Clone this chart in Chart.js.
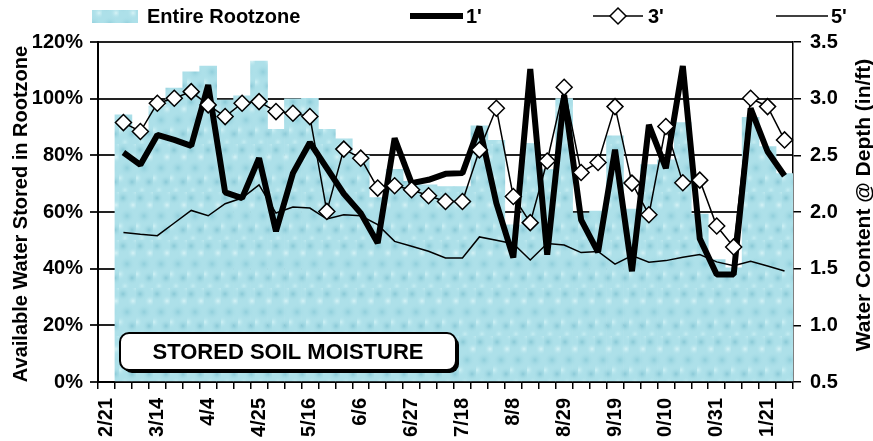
<!DOCTYPE html>
<html>
<head>
<meta charset="utf-8">
<script src="https://cdn.jsdelivr.net/npm/chart.js@4"></script>
<style>
  html, body { margin: 0; padding: 0; background: #fff; }
  canvas { display: block; }
</style>
</head>
<body>
<canvas id="chart" width="873" height="441"></canvas>
<script>
// weekly readings, first week (2/21) has no data
const weeks = ['2/21', '2/28', '3/7', '3/14', '3/21', '3/28', '4/4', '4/11', '4/18', '4/25',
    '5/2', '5/9', '5/16', '5/23', '5/30', '6/6', '6/13', '6/20', '6/27', '7/4',
    '7/11', '7/18', '7/25', '8/1', '8/8', '8/15', '8/22', '8/29', '9/5', '9/12',
    '9/19', '9/26', '10/3', '10/10', '10/17', '10/24', '10/31', '11/7', '11/14', '11/21', '11/28'];

// labels as printed under every third week
const xTickLabels = ['2/21', '3/14', '4/4', '4/25', '5/16', '6/6', '6/27', '7/18', '8/8', '8/29',
    '9/19', '0/10', '0/31', '1/21'];

// % available water stored in rootzone (left axis)
const rootzone = [null, 94.3, 89, 97.4, 103.7, 109.5, 111.5, 99.5, 101, 113.3,
    89.2, 99.9, 100.1, 89.2, 85.8, 80, 65.1, 75.1, 70.8, 69.6,
    69, 69, 90.4, 85.3, 55.5, 84.2, 75, 100, 59.6, 60.3,
    86.9, 61, 76.7, 78.4, 91.6, 59.3, 43.2, 40.3, 93.4, 83.1, 73.6];

// water content in/ft (right axis)
const depth1 = [null, 2.525, 2.416, 2.68, 2.636, 2.584, 3.12, 2.173, 2.123, 2.475,
    1.83, 2.343, 2.613, 2.387, 2.161, 1.99, 1.727, 2.651, 2.255, 2.284,
    2.337, 2.343, 2.754, 2.079, 1.598, 3.262, 1.624, 3.03, 1.93, 1.646,
    2.55, 1.477, 2.768, 2.387, 3.288, 1.765, 1.448, 1.448, 2.915, 2.534, 2.32];

const depth3 = [null, 2.789, 2.71, 2.96, 3.004, 3.062, 2.945, 2.842, 2.96, 2.974,
    2.886, 2.871, 2.842, 2.005, 2.555, 2.475, 2.211, 2.232, 2.196, 2.143,
    2.093, 2.093, 2.548, 2.915, 2.137, 1.906, 2.45, 3.10, 2.349, 2.437,
    2.93, 2.255, 1.976, 2.754, 2.258, 2.281, 1.876, 1.692, 3.004, 2.93, 2.636];

const depth5 = [null, 1.82, 1.803, 1.791, 1.903, 2.014, 1.967, 2.073, 2.123, 2.24,
    1.991, 2.044, 2.035, 1.938, 1.976, 1.967, 1.888, 1.741, 1.697, 1.653,
    1.595, 1.595, 1.78, 1.75, 1.72, 1.577, 1.722, 1.708, 1.642, 1.652,
    1.54, 1.615, 1.556, 1.571, 1.6, 1.624, 1.56, 1.525, 1.565, 1.524, 1.48];

const FONT = "'Liberation Sans', Arial, sans-serif";
const canvas = document.getElementById('chart');
const ctx = canvas.getContext('2d');

// light blue "water drop" texture for the rootzone bars
function makeWaterPattern() {
    const c = document.createElement('canvas');
    c.width = 17;
    c.height = 48;
    const g = c.getContext('2d');
    g.fillStyle = '#ade0e9';
    g.fillRect(0, 0, c.width, c.height);
    const spots = [
        [4, 6, 7, 'rgba(120,190,205,0.7)'], [14, 13, 6, 'rgba(225,248,250,0.8)'],
        [8, 24, 8, 'rgba(125,195,210,0.6)'], [1, 34, 6, 'rgba(215,245,248,0.8)'],
        [13, 38, 7, 'rgba(118,188,204,0.65)'], [6, 46, 5, 'rgba(210,243,246,0.7)'],
        [17, 0, 5, 'rgba(205,240,244,0.7)']
    ];
    spots.forEach(([x, y, r, col]) => {
        const rg = g.createRadialGradient(x, y, 0, x, y, r);
        rg.addColorStop(0, col);
        rg.addColorStop(1, 'rgba(173,224,233,0)');
        g.fillStyle = rg;
        g.fillRect(x - r, y - r, 2 * r, 2 * r);
    });
    return ctx.createPattern(c, 'repeat');
}
const water = makeWaterPattern();

const extras = {
    id: 'extras',
    afterDraw(chart) {
        const c = chart.ctx;
        c.save();
        c.fillStyle = '#000';
        c.font = 'bold 20px ' + FONT;
        c.textBaseline = 'middle';

        // legend
        const ly = 16;
        c.fillStyle = water;
        c.fillRect(92, 10, 46, 13);
        c.fillStyle = '#000';
        c.fillText(chart.data.datasets[0].label, 147, ly + 1);

        c.strokeStyle = '#000';
        c.lineWidth = 6;
        c.beginPath(); c.moveTo(410, ly); c.lineTo(463, ly); c.stroke();
        c.fillText(chart.data.datasets[1].label, 466, ly + 1);

        c.lineWidth = 1.5;
        c.beginPath(); c.moveTo(593, ly); c.lineTo(643, ly); c.stroke();
        c.beginPath();
        c.moveTo(618, ly - 8); c.lineTo(626, ly); c.lineTo(618, ly + 8); c.lineTo(610, ly); c.closePath();
        c.fillStyle = '#fff'; c.fill(); c.stroke();
        c.fillStyle = '#000';
        c.fillText(chart.data.datasets[2].label, 648, ly + 1);

        c.beginPath(); c.moveTo(776, ly); c.lineTo(828, ly); c.stroke();
        c.fillText(chart.data.datasets[3].label, 831, ly + 1);

        // axis titles, both reading bottom to top
        c.textAlign = 'center';
        c.save();
        c.translate(21, 214);
        c.rotate(-Math.PI / 2);
        c.fillText('Available Water Stored in Rootzone', 0, 0);
        c.restore();
        c.save();
        c.font = 'bold 21px ' + FONT;
        c.translate(864, 205);
        c.rotate(-Math.PI / 2);
        c.fillText('Water Content @ Depth (in/ft)', 0, 0);
        c.restore();

        // caption box
        const bx = 120, by = 333, bw = 336, bh = 37, r = 9;
        c.fillStyle = '#000';
        c.beginPath(); c.roundRect(bx + 3, by + 3, bw, bh, r); c.fill();
        c.fillStyle = '#fff';
        c.lineWidth = 2;
        c.beginPath(); c.roundRect(bx, by, bw, bh, r); c.fill(); c.stroke();
        c.fillStyle = '#000';
        c.font = 'bold 22px ' + FONT;
        c.fillText('STORED SOIL MOISTURE', bx + bw / 2, by + bh / 2 + 1);
        c.restore();
    }
};

const tickFont = { family: FONT, size: 20, weight: 'bold' };

new Chart(canvas, {
    type: 'bar',
    data: {
        labels: weeks,
        datasets: [
            {
                label: 'Entire Rootzone',
                data: rootzone,
                yAxisID: 'y',
                backgroundColor: water,
                borderWidth: 0,
                barPercentage: 1,
                categoryPercentage: 1,
                order: 10
            },
            {
                type: 'line',
                label: "1'",
                data: depth1,
                yAxisID: 'y1',
                borderColor: '#000',
                borderWidth: 6,
                borderJoinStyle: 'bevel',
                pointRadius: 0,
                tension: 0,
                order: 2
            },
            {
                type: 'line',
                label: "3'",
                data: depth3,
                yAxisID: 'y1',
                borderColor: '#000',
                borderWidth: 1.5,
                pointStyle: 'rectRot',
                pointRadius: 8,
                pointBackgroundColor: '#fff',
                pointBorderColor: '#000',
                pointBorderWidth: 1.5,
                tension: 0,
                order: 1
            },
            {
                type: 'line',
                label: "5'",
                data: depth5,
                yAxisID: 'y1',
                borderColor: '#000',
                borderWidth: 1.5,
                pointRadius: 0,
                tension: 0,
                order: 3
            }
        ]
    },
    options: {
        responsive: false,
        animation: false,
        layout: { padding: { top: 42, left: 0, right: 0, bottom: 0 } },
        plugins: {
            legend: { display: false },
            tooltip: { enabled: false }
        },
        scales: {
            x: {
                offset: true,
                grid: { offset: true, drawOnChartArea: false, tickLength: 7, color: '#000', lineWidth: 1.5 },
                border: { color: '#000', width: 2 },
                ticks: {
                    autoSkip: false,
                    minRotation: 90,
                    maxRotation: 90,
                    padding: 9,
                    color: '#000',
                    font: tickFont,
                    callback: (v, i) => (i % 3 === 0 ? xTickLabels[i / 3] : '')
                },
                afterFit: (s) => { s.height = 59; }
            },
            y: {
                position: 'left',
                min: 0,
                max: 120,
                grid: { color: '#222', lineWidth: 2, tickLength: 8 },
                border: { color: '#000', width: 2 },
                ticks: {
                    stepSize: 20,
                    padding: 7,
                    color: '#000',
                    font: tickFont,
                    callback: (v) => v + '%'
                },
                afterFit: (s) => { s.width = 98; }
            },
            y1: {
                position: 'right',
                min: 0.5,
                max: 3.5,
                grid: { drawOnChartArea: false, color: '#000', lineWidth: 1.5, tickLength: 8 },
                border: { color: '#000', width: 1.5 },
                ticks: {
                    stepSize: 0.5,
                    padding: 9,
                    color: '#000',
                    font: tickFont,
                    callback: (v) => v.toFixed(1)
                },
                afterFit: (s) => { s.width = 80; }
            }
        }
    },
    plugins: [extras]
});
</script>
</body>
</html>
